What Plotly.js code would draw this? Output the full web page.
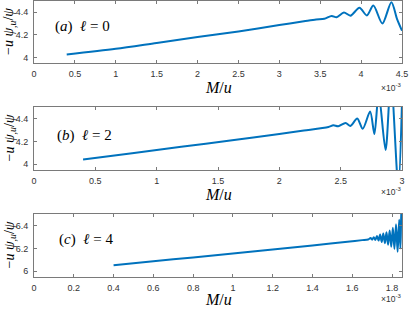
<!DOCTYPE html>
<html><head><meta charset="utf-8">
<script src="https://cdn.plot.ly/plotly-3.0.1.min.js"></script>
<style>html,body{margin:0;padding:0;background:#fff;}#chart{width:409px;height:309px;}</style>
</head><body><div id="chart"></div>
<script>
// ---- Data (M/u in units of 1e-3) ----
const xA = [0.4, 1.0, 1.5, 2.0, 2.5, 3.0, 3.3, 3.45, 3.55, 3.64, 3.70, 3.79, 3.87, 3.98, 4.07, 4.15, 4.26, 4.37, 4.44, 4.5];
const yA = [4.026, 4.076, 4.128, 4.18, 4.23, 4.287, 4.32, 4.336, 4.342, 4.368, 4.355, 4.398, 4.37, 4.44, 4.372, 4.46, 4.30, 4.49, 4.34, 4.237];

const xB = [0.4, 0.8, 1.2, 1.6, 2.0, 2.2, 2.4, 2.44, 2.48, 2.54, 2.58, 2.635, 2.68, 2.74, 2.775, 2.81, 2.866, 2.91, 2.97, 3.0];
const yB = [4.042, 4.097, 4.152, 4.207, 4.264, 4.294, 4.326, 4.34, 4.332, 4.36, 4.335, 4.40, 4.31, 4.46, 4.264, 4.62, 4.124, 4.75, 3.80, 4.55];

const xC = [0.4, 0.6, 0.8, 1.0, 1.2, 1.4, 1.6, 1.65, 1.68, 1.692, 1.700, 1.708, 1.716, 1.724, 1.732, 1.740, 1.748, 1.756, 1.764, 1.772, 1.780, 1.788, 1.796, 1.804, 1.812, 1.820, 1.828, 1.836, 1.842, 1.847, 1.852];
const yC = [6.053, 6.087, 6.121, 6.156, 6.19, 6.226, 6.263, 6.272, 6.278, 6.29, 6.276, 6.298, 6.274, 6.308, 6.268, 6.32, 6.255, 6.33, 6.245, 6.34, 6.232, 6.355, 6.215, 6.38, 6.195, 6.41, 6.17, 6.45, 6.20, 6.52, 6.60];

const yTicksAB = [4, 4.2, 4.4];
const yTickTextAB = ['4', '4.2', '4.4'];
const yTicksC = [6, 6.2, 6.4];
const yTickTextC = ['6', '6.2', '6.4'];
const panelLabels = ['(<i>a</i>)  <i>ℓ</i> = 0', '(<i>b</i>)  <i>ℓ</i> = 2', '(<i>c</i>)  <i>ℓ</i> = 4'];
const yTitle = '−<i>u</i> <i>ψ</i><sub>,<i>u</i></sub>/<i>ψ</i>';
const xTitle = '<i>M</i>/<i>u</i>';
const expLabel = '×10<sup>-3</sup>';

// ---- Layout helpers ----
const W = 409, H = 309;
const px = v => v / W;
const py = v => 1 - v / H;
const lineColor = '#0072BD';
const axCol = '#7a7a7a';
const tickFont = {family: 'Liberation Sans, Arial, sans-serif', size: 9, color: '#333'};
const serif = 'Liberation Serif, Times New Roman, serif';

function trace(x, y, xa, ya) {
  return {x: x, y: y, xaxis: xa, yaxis: ya, type: 'scatter', mode: 'lines',
          line: {color: lineColor, width: 2, shape: 'spline', smoothing: 0.8}, hoverinfo: 'skip'};
}
function xaxis(range, dtick, dom, anchor) {
  return {range: range, dtick: dtick, tick0: 0, domain: dom, anchor: anchor,
          showline: true, linecolor: axCol, linewidth: 1, mirror: 'ticks',
          ticks: 'inside', ticklen: 3, tickcolor: axCol, tickwidth: 1,
          showgrid: false, zeroline: false, tickfont: tickFont, ticklabelstandoff: 2};
}
function yaxis(range, tv, tt, dom, anchor) {
  return {range: range, tickvals: tv, ticktext: tt, domain: dom, anchor: anchor,
          showline: true, linecolor: axCol, linewidth: 1, mirror: 'ticks',
          ticks: 'inside', ticklen: 3, tickcolor: axCol, tickwidth: 1,
          showgrid: false, zeroline: false, tickfont: tickFont, ticklabelstandoff: 3};
}

const xDom = [px(34), px(402)];
const dA = [py(63), py(1)], dB = [py(170), py(107)], dC = [py(277), py(214)];

const data = [
  trace(xA, yA, 'x', 'y'),
  trace(xB, yB, 'x2', 'y2'),
  trace(xC, yC, 'x3', 'y3')
];

const ann = [];
function addPanel(topPx, botPx, label, labelX, labelY, xTitleY, expY) {
  ann.push({text: label, xref: 'paper', yref: 'paper', x: px(labelX), y: py(labelY),
            xanchor: 'left', yanchor: 'middle', showarrow: false,
            font: {family: serif, size: 15, color: '#000'}});
  ann.push({text: yTitle, xref: 'paper', yref: 'paper', x: px(10), y: py((topPx + botPx) / 2),
            xanchor: 'center', yanchor: 'middle', textangle: -90, showarrow: false, borderpad: 0,
            font: {family: serif, size: 14, color: '#000'}});
  ann.push({text: xTitle, xref: 'paper', yref: 'paper', x: px(218), y: py(xTitleY),
            xanchor: 'center', yanchor: 'middle', showarrow: false,
            font: {family: serif, size: 16, color: '#000'}});
  ann.push({text: expLabel, xref: 'paper', yref: 'paper', x: px(403), y: py(expY),
            xanchor: 'right', yanchor: 'middle', showarrow: false,
            font: {family: 'Liberation Sans, Arial, sans-serif', size: 8.5, color: '#333'}});
}
addPanel(1, 63, panelLabels[0], 53, 26, 88, 87);
addPanel(107, 170, panelLabels[1], 55, 135, 194, 192);
addPanel(214, 277, panelLabels[2], 57, 239, 299, 298);

const layout = {
  width: W, height: H, autosize: false,
  margin: {l: 0, r: 0, t: 0, b: 0, pad: 0},
  paper_bgcolor: '#fff', plot_bgcolor: '#fff',
  showlegend: false,
  xaxis: xaxis([0, 4.5], 0.5, xDom, 'y'),
  yaxis: yaxis([3.95, 4.5], yTicksAB, yTickTextAB, dA, 'x'),
  xaxis2: xaxis([0, 3], 0.5, xDom, 'y2'),
  yaxis2: yaxis([3.95, 4.5], yTicksAB, yTickTextAB, dB, 'x2'),
  xaxis3: xaxis([0, 1.85], 0.2, xDom, 'y3'),
  yaxis3: yaxis([5.95, 6.5], yTicksC, yTickTextC, dC, 'x3'),
  annotations: ann
};

Plotly.newPlot('chart', data, layout, {staticPlot: true, displayModeBar: false});
</script>
</body></html>
